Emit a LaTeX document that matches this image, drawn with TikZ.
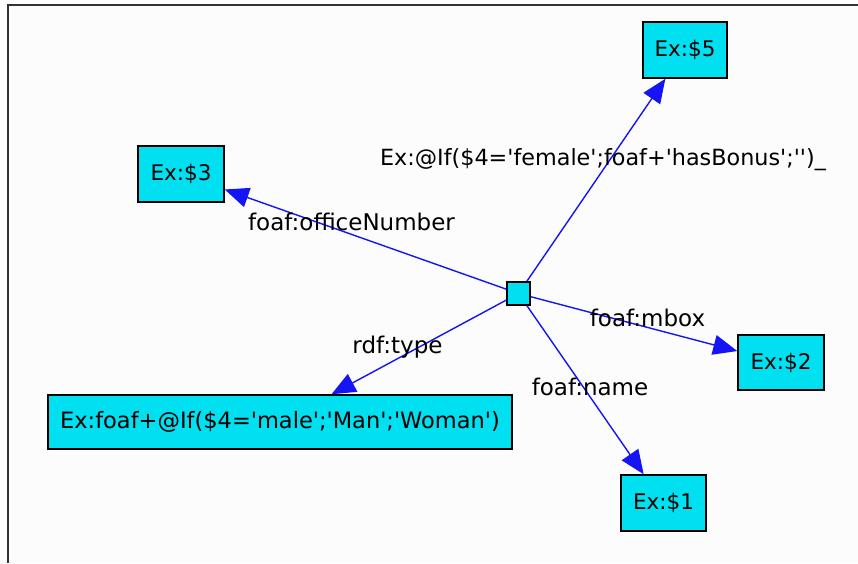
\documentclass[tikz,border=0pt]{standalone}
\usepackage{fontspec}
\setmainfont{DejaVu Sans}
\usetikzlibrary{arrows.meta}
\definecolor{cyanboite}{RGB}{0,224,240}
\definecolor{bleufleche}{RGB}{20,20,245}
\newcommand{\apo}{\textquotesingle}
\tikzset{boite/.style = {draw, fill = cyanboite, line width = 1.5pt, inner sep = 0pt,
                         font = \fontsize{21.5}{24}\selectfont},
         fleche/.style = {draw = bleufleche, line width = 1.4pt,
                          -{Triangle[length = 24pt, width = 20pt]}},
         etiquette/.style = {inner sep = 0pt, font = \fontsize{23}{26}\selectfont}
        }

\begin{document}
\begin{tikzpicture}[x = 1pt, y = -1pt]
  \useasboundingbox (0,0) rectangle (858,563);
  \fill[white!99!black] (8,5) rectangle (858,563);
  \draw[line width = 1.5pt, black!80] (8,563) -- (8,5) -- (858,5);

  % les noeuds
  \node[boite, minimum width = 23pt, minimum height = 23pt] (centre) at (518.5,293.5) {};
  \node[boite, minimum width = 84pt, minimum height = 56pt] (ex5) at (685,50) {Ex:\$5};
  \node[boite, minimum width = 86pt, minimum height = 56pt] (ex3) at (181,174) {Ex:\$3};
  \node[boite, minimum width = 86pt, minimum height = 55pt] (ex2) at (781,362.5) {Ex:\$2};
  \node[boite, minimum width = 85pt, minimum height = 56pt] (ex1) at (663.5,503) {Ex:\$1};
  \node[boite, minimum width = 464pt, minimum height = 54pt,
        font = \fontsize{22.5}{26}\selectfont] (type) at (280,422)
       {Ex:foaf+@If(\$4=\apo male\apo;\apo Man\apo;\apo Woman\apo)};

  % les arcs
  \draw[fleche] (centre) -- (ex5);
  \draw[fleche] (centre) -- (ex3);
  \draw[fleche] (centre) -- (ex2);
  \draw[fleche] (centre) -- (ex1);
  \draw[fleche] (centre) -- (type);

  % les etiquettes
  \node[etiquette, font = \fontsize{22.3}{26}\selectfont] (lbonus) at (603,160)
       {Ex:@If(\$4=\apo female\apo;foaf+\apo hasBonus\apo;\apo\apo)\_};
  \node[etiquette] (loffice) at (351.5,222) {foaf:officeNumber};
  \node[etiquette] (lmbox) at (647.5,318) {foaf:mbox};
  \node[etiquette] (ltype) at (397.5,347) {rdf:type};
  \node[etiquette] (lname) at (590,387) {foaf:name};
\end{tikzpicture}
\end{document}
